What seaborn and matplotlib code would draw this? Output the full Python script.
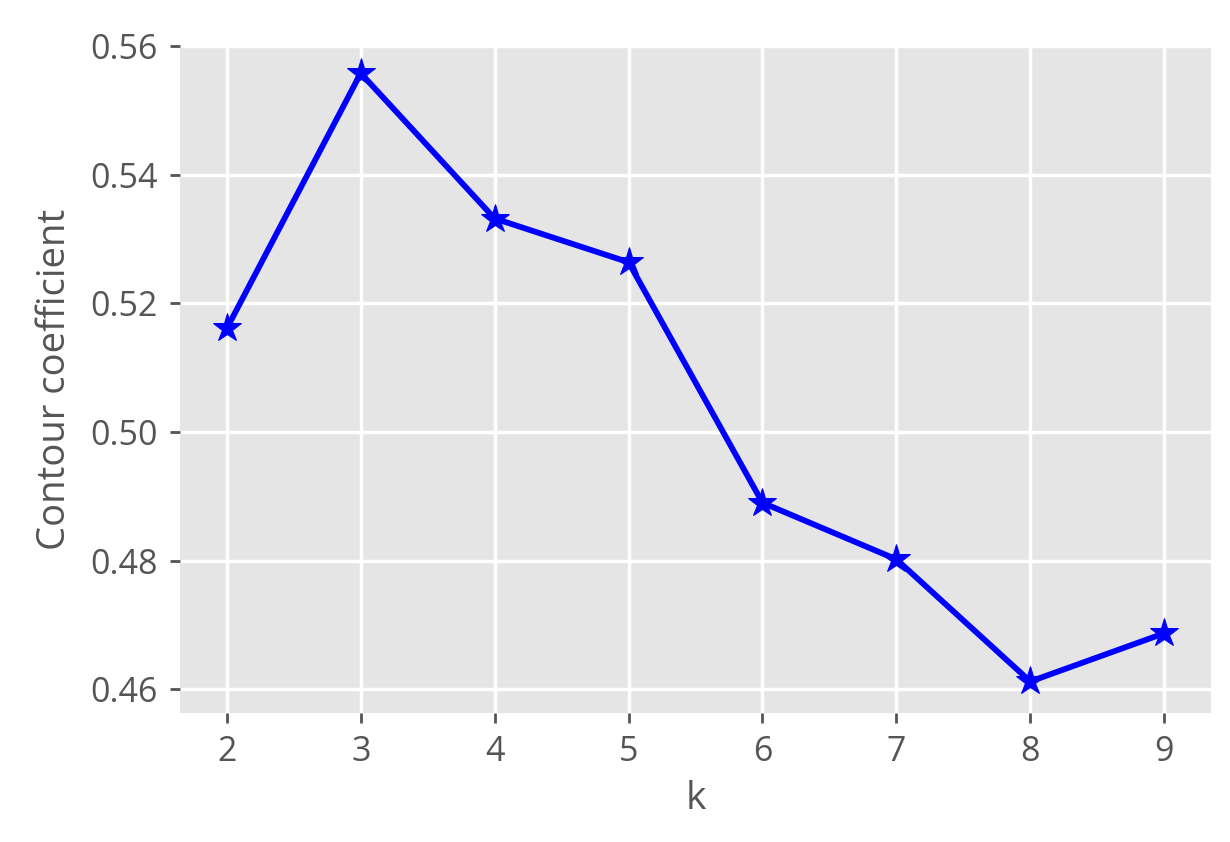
import matplotlib
matplotlib.use("Agg")
import matplotlib.pyplot as plt
import seaborn as sns
import pandas as pd

k_values = [2, 3, 4, 5, 6, 7, 8, 9]
scores = [0.5161, 0.5558, 0.5332, 0.5264, 0.4890, 0.4802, 0.4612, 0.4687]
y_ticks = [0.46, 0.48, 0.50, 0.52, 0.54, 0.56]

plt.style.use("ggplot")
plt.rcParams['font.family'] = ['Open Sans', 'DejaVu Sans']

df = pd.DataFrame({"k": k_values, "score": scores})

fig = plt.figure(figsize=(12.3, 8.42), dpi=100)
ax = fig.add_axes([0.1463, 0.1532, 0.8383, 0.7935])
ax.set_facecolor("#E5E5E5")

sns.lineplot(data=df, x="k", y="score", ax=ax, color="blue", linewidth=4.2,
             marker="*", markersize=21, markeredgecolor="blue", markerfacecolor="blue")

ax.set_xticks(k_values)
ax.set_yticks(y_ticks)
ax.set_yticklabels([f"{v:.2f}" for v in y_ticks])
ax.set_xlim(1.65, 9.35)
ax.set_ylim(0.4563, 0.5602)
ax.grid(True, color="white", linewidth=2.5)
ax.tick_params(axis="both", labelsize=24.5, colors="#555555", length=7, width=2, pad=9)
ax.set_xlabel("k", fontsize=28, color="#555555", labelpad=8)
ax.set_ylabel("Contour coefficient", fontsize=27.5, color="#555555", labelpad=12)
for s in ax.spines.values():
    s.set_visible(False)

fig.savefig("out.png", dpi=100)
